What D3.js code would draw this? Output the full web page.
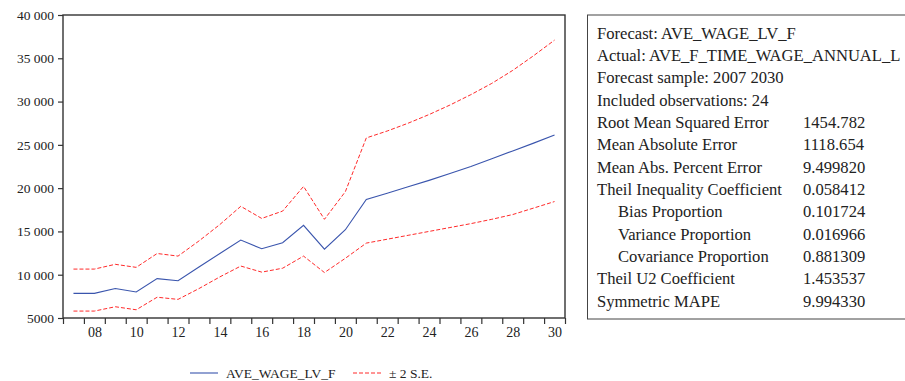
<!DOCTYPE html>
<html>
<head>
<meta charset="utf-8">
<script src="https://cdn.jsdelivr.net/npm/d3@7"></script>
<style>
body{margin:0;background:#fff;}
</style>
</head>
<body>
<svg id="chart" width="905" height="381"></svg>
<script>
// years 2007..2030
const years=[2007,2008,2009,2010,2011,2012,2013,2014,2015,2016,2017,2018,2019,2020,2021,2022,2023,2024,2025,2026,2027,2028,2029,2030];
const forecast=[7850,7850,8400,8000,9550,9300,10900,12450,14000,13000,13700,15700,12950,15200,18700,19400,20150,20900,21700,22500,23400,24300,25200,26150];
const upper=[10650,10650,11200,10850,12450,12150,13900,15800,17900,16500,17350,20200,16400,19600,25800,26600,27500,28500,29600,30800,32100,33600,35300,37100];
const lower=[5800,5800,6300,5950,7400,7150,8400,9750,11000,10300,10750,12150,10250,11900,13650,14100,14550,15000,15450,15900,16400,16950,17700,18450];
const yTicks=[5000,10000,15000,20000,25000,30000,35000,40000];
const xLabels=[2008,2010,2012,2014,2016,2018,2020,2022,2024,2026,2028,2030];

const statLabels=["Forecast: AVE_WAGE_LV_F","Actual: AVE_F_TIME_WAGE_ANNUAL_L","Forecast sample: 2007 2030","Included observations: 24","Root Mean Squared Error","Mean Absolute Error","Mean Abs. Percent Error","Theil Inequality Coefficient","Bias Proportion","Variance Proportion","Covariance Proportion","Theil U2 Coefficient","Symmetric MAPE"];
const statValues=["","","","","1454.782","1118.654","9.499820","0.058412","0.101724","0.016966","0.881309","1.453537","9.994330"];
const statIndent=[0,0,0,0,0,0,0,0,1,1,1,0,0];

const FONT="'Liberation Serif', 'Times New Roman', Tinos";
const svg=d3.select("#chart");
const pLeft=63,pRight=565,pTop=15,pBottom=318;

const x=d3.scaleLinear().domain([2006.5,2030.5]).range([pLeft,pRight]);
const y=d3.scaleLinear().domain([5000,40000]).range([pBottom,pTop]);

// frame
svg.append("rect").attr("x",pLeft).attr("y",pTop).attr("width",pRight-pLeft).attr("height",pBottom-pTop)
  .attr("fill","none").attr("stroke","#333").attr("stroke-width",1.4);

// y axis
const fmt=d=>d>=10000?d3.format(",")(d).replace(","," "):String(d);
const yAx=svg.append("g").attr("transform","translate("+pLeft+",0)")
  .call(d3.axisLeft(y).tickValues(yTicks).tickSize(5).tickPadding(4).tickFormat(fmt));
yAx.select(".domain").remove();
yAx.selectAll("line").attr("stroke","#333").attr("stroke-width",1.2);
yAx.selectAll("text").style("font-family",FONT).style("font-size","13.5px").attr("fill","#222");

// x axis: ticks at year boundaries, labels centred in years
const bounds=d3.range(2006.5,2031,1);
const xTickAx=svg.append("g").attr("transform","translate(0,"+pBottom+")")
  .call(d3.axisBottom(x).tickValues(bounds).tickSize(6).tickFormat(""));
xTickAx.select(".domain").remove();
xTickAx.selectAll("line").attr("stroke","#333").attr("stroke-width",1.2);
const xLabAx=svg.append("g").attr("transform","translate(0,"+pBottom+")")
  .call(d3.axisBottom(x).tickValues(xLabels).tickSize(0).tickPadding(9).tickFormat(d=>String(d).slice(2)));
xLabAx.select(".domain").remove();
xLabAx.selectAll("text").style("font-family",FONT).style("font-size","14px").attr("fill","#222");

// lines
const line=arr=>d3.line().x((d,i)=>x(years[i])).y(d=>y(d))(arr);
svg.append("path").attr("d",line(upper)).attr("fill","none").attr("stroke","#ff2a2a").attr("stroke-width",1).attr("stroke-dasharray","4,2");
svg.append("path").attr("d",line(lower)).attr("fill","none").attr("stroke","#ff2a2a").attr("stroke-width",1).attr("stroke-dasharray","4,2");
svg.append("path").attr("d",line(forecast)).attr("fill","none").attr("stroke","#3a55ad").attr("stroke-width",1.1);

// legend
const lg=svg.append("g").style("font-family",FONT).style("font-size","13.5px").attr("fill","#222");
lg.append("line").attr("x1",190).attr("x2",218).attr("y1",373).attr("y2",373).attr("stroke","#3a55ad").attr("stroke-width",1.1);
lg.append("text").attr("x",226).attr("y",377.5).text("AVE_WAGE_LV_F");
lg.append("line").attr("x1",353).attr("x2",382).attr("y1",373).attr("y2",373).attr("stroke","#ff2a2a").attr("stroke-width",1).attr("stroke-dasharray","4,2");
lg.append("text").attr("x",389).attr("y",377.5).text("± 2 S.E.");

// stats box
svg.append("rect").attr("x",587.5).attr("y",15).attr("width",330).attr("height",304)
  .attr("fill","none").attr("stroke","#444").attr("stroke-width",1);
const rowY=i=>38.5+i*22.35;
const st=svg.append("g").style("font-family",FONT).style("font-size","16.6px").attr("fill","#222");
st.selectAll("text.lab").data(statLabels).join("text").attr("class","lab")
  .attr("x",(d,i)=>597+statIndent[i]*21).attr("y",(d,i)=>rowY(i)).text(d=>d);
st.selectAll("text.val").data(statValues).join("text").attr("class","val")
  .attr("x",803).attr("y",(d,i)=>rowY(i)).text(d=>d);
</script>
</body>
</html>
